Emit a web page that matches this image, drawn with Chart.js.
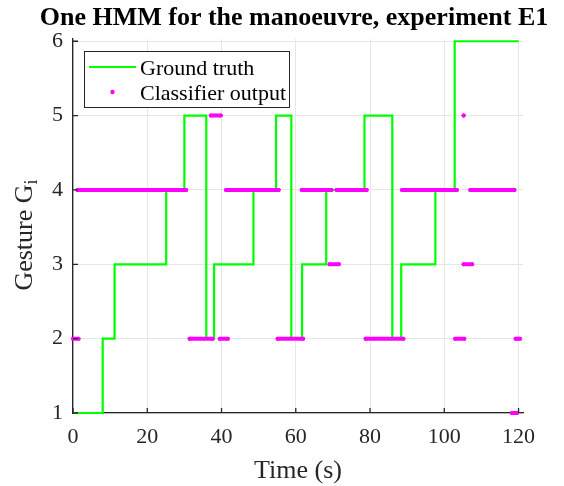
<!DOCTYPE html>
<html><head><meta charset="utf-8">
<script src="https://cdn.jsdelivr.net/npm/chart.js@4.4.1/dist/chart.umd.min.js"></script>
<style>html,body{margin:0;padding:0;background:#fff}#wrap{width:564px;height:486px;position:relative}</style>
</head><body><div id="wrap"><canvas id="c" width="564" height="486"></canvas></div>
<script>
const titleText = 'One HMM for the manoeuvre, experiment E1';
const xAxisTitle = 'Time (s)';
const yAxisTitle = 'Gesture G';
const yAxisSub = 'i';
const seriesNames = ['Ground truth', 'Classifier output'];
const xTicks = [0, 20, 40, 60, 80, 100, 120];
const yTicks = [1, 2, 3, 4, 5, 6];

// Ground truth: time at which each gesture starts
const gtTime    = [0, 8.0, 11.2, 25.1, 30.0, 35.9, 38.0, 48.6, 54.7, 58.8, 61.7, 68.2, 78.5, 86.0, 88.4, 97.6, 102.8, 120];
const gtGesture = [1, 2,   3,    4,    5,    2,    3,    4,    5,    2,    3,    4,    5,    2,    3,    4,    6,     6];

// Classifier output runs: start time, end time, gesture
const clsStart   = [0,   1.2,  31.4, 37.1, 39.5, 41.2, 55.1, 61.6, 69.1, 71.0, 78.8, 88.6,  102.9, 105.2, 105.2, 107.0, 118.2, 119.2];
const clsEnd     = [1.5, 30.5, 37.6, 39.8, 41.7, 55.4, 62.0, 69.6, 71.6, 79.1, 89.0, 103.4, 105.4, 105.2, 107.5, 118.9, 119.6, 120.4];
const clsGesture = [2,   4,    2,    5,    2,    4,    2,    4,    3,    4,    2,    4,     2,     5,     3,     4,     1,     2];

const AX = '#262626';
const SERIF = "'Liberation Serif', 'Times New Roman', serif";

const gtData = gtTime.map((t, i) => ({x: t, y: gtGesture[i]}));
const clsData = [];
clsStart.forEach((s, i) => {
  clsData.push({x: s, y: clsGesture[i]}, {x: clsEnd[i], y: clsGesture[i]}, {x: clsEnd[i], y: null});
});

const decor = {
  id: 'decor',
  afterDraw(chart) {
    const ctx = chart.ctx, ca = chart.chartArea;
    const xs = chart.scales.x, ys = chart.scales.y;
    ctx.save();
    // inward tick marks
    ctx.strokeStyle = AX; ctx.lineWidth = 1.3;
    ctx.beginPath();
    xTicks.forEach(v => { const p = xs.getPixelForValue(v); ctx.moveTo(p, ca.bottom); ctx.lineTo(p, ca.bottom - 5); });
    yTicks.forEach(v => { const p = ys.getPixelForValue(v); ctx.moveTo(ca.left, p); ctx.lineTo(ca.left + 5, p); });
    ctx.stroke();
    // title
    ctx.fillStyle = '#000';
    ctx.font = 'bold 26px ' + SERIF;
    ctx.textAlign = 'center'; ctx.textBaseline = 'alphabetic';
    ctx.fillText(titleText, 294, 25);
    // x title
    ctx.fillStyle = AX;
    ctx.font = '26px ' + SERIF;
    ctx.fillText(xAxisTitle, (ca.left + ca.right) / 2, 478);
    // y title with subscript
    ctx.save();
    ctx.translate(32, 235);
    ctx.rotate(-Math.PI / 2);
    ctx.font = '26px ' + SERIF;
    const w1 = ctx.measureText(yAxisTitle).width;
    ctx.font = '18px ' + SERIF;
    const w2 = ctx.measureText(yAxisSub).width;
    const start = -(w1 + w2) / 2;
    ctx.textAlign = 'left';
    ctx.font = '26px ' + SERIF;
    ctx.fillText(yAxisTitle, start, 0);
    ctx.font = '18px ' + SERIF;
    ctx.fillText(yAxisSub, start + w1, 5);
    ctx.restore();
    // legend
    const lx = 84, ly = 51, lw = 205, lh = 56;
    ctx.fillStyle = '#fff';
    ctx.fillRect(lx, ly, lw, lh);
    ctx.strokeStyle = AX; ctx.lineWidth = 1;
    ctx.strokeRect(lx + 0.5, ly + 0.5, lw, lh);
    const ds = chart.data.datasets;
    // row 1: line
    ctx.strokeStyle = ds[0].borderColor; ctx.lineWidth = 2.2;
    ctx.beginPath(); ctx.moveTo(89, 67); ctx.lineTo(136, 67); ctx.stroke();
    // row 2: dot
    ctx.fillStyle = ds[1].borderColor;
    ctx.beginPath(); ctx.arc(112.5, 92, 2.2, 0, Math.PI * 2); ctx.fill();
    ctx.fillStyle = '#000';
    ctx.font = '22px ' + SERIF;
    ctx.textAlign = 'left';
    ctx.fillText(ds[0].label, 140, 75);
    ctx.fillText(ds[1].label, 140, 100);
    ctx.restore();
  }
};

new Chart(document.getElementById('c'), {
  type: 'line',
  data: {
    datasets: [
      {
        label: seriesNames[0], data: gtData, borderColor: '#00ff00', borderWidth: 2.2,
        stepped: true, pointRadius: 0, fill: false, borderJoinStyle: 'miter', borderCapStyle: 'butt',
        order: 1, clip: false
      },
      {
        label: seriesNames[1], data: clsData, borderColor: '#ff00ff', backgroundColor: '#ff00ff',
        borderWidth: 4, borderCapStyle: 'round', pointRadius: 2, pointBorderWidth: 0,
        pointBackgroundColor: '#ff00ff', spanGaps: false, fill: false, order: 0, clip: false
      }
    ]
  },
  options: {
    responsive: false, animation: false, devicePixelRatio: 1,
    layout: {padding: {top: 39, right: 41, left: 0, bottom: 0}},
    plugins: {legend: {display: false}, tooltip: {enabled: false}, title: {display: false}},
    scales: {
      x: {
        type: 'linear', min: 0, max: 121.2,
        afterBuildTicks: s => { s.ticks = xTicks.map(v => ({value: v})); },
        afterFit: s => { s.height = 73; },
        grid: {color: '#e6e6e6', lineWidth: 1, drawTicks: false},
        border: {color: AX, width: 1.3},
        ticks: {font: {family: SERIF, size: 22}, color: AX, padding: 11, maxRotation: 0, autoSkip: false}
      },
      y: {
        type: 'linear', min: 1, max: 6.03,
        afterBuildTicks: s => { s.ticks = yTicks.map(v => ({value: v})); },
        afterFit: s => { s.width = 73; },
        grid: {color: '#e6e6e6', lineWidth: 1, drawTicks: false},
        border: {color: AX, width: 1.3},
        ticks: {font: {family: SERIF, size: 22}, color: AX, padding: 10}
      }
    }
  },
  plugins: [decor]
});
</script>
</body></html>
